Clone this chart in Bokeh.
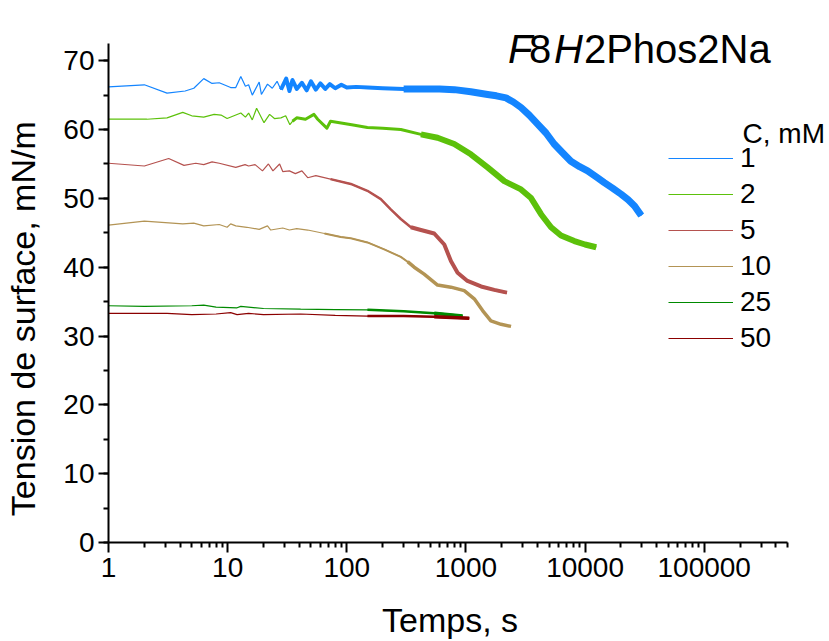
from bokeh.plotting import figure
from bokeh.models import (Range1d, FixedTicker, SingleIntervalTicker, Legend,
                          LegendItem, Label, PrintfTickFormatter)
from bokeh.embed import file_html
from bokeh.resources import INLINE

# ---------------- data ----------------
t_c1 = [1, 2, 3.1, 4.4, 5.2, 6.3, 7.4, 8.5, 10.6, 11.7, 12.9, 14.1, 15, 16.1,
        18.4, 19.2, 21.6, 23.7, 26, 28, 31, 33, 35, 38, 42, 46, 50, 55, 60,
        66, 72, 80, 90, 100, 120, 150, 200, 300, 420, 600, 800, 1100, 1520,
        1800, 2170, 2500, 2900, 3400, 4000, 4700, 5500, 6500, 7600, 9000,
        10500, 12500, 14500, 17000, 20100, 23000, 26000, 29600]
v_c1 = [66.2, 66.5, 65.3, 65.6, 66.0, 67.4, 66.7, 66.8, 66.1, 66.1, 67.7, 66.3,
        66.5, 65.0, 66.9, 65.1, 66.6, 66.0, 67.0, 65.8, 67.4, 65.6, 67.2, 65.9,
        66.8, 65.7, 67.0, 65.8, 66.7, 65.9, 66.6, 66.0, 66.5, 66.1, 66.2, 66.1,
        66.0, 65.9, 65.9, 65.9, 65.8, 65.5, 65.1, 64.9, 64.6, 64.0, 63.2, 62.1,
        60.8, 59.5, 57.9, 56.6, 55.4, 54.6, 54.0, 53.1, 52.3, 51.5, 50.6, 49.8,
        48.9, 47.5]

t_c2 = [1, 2.1, 3.1, 4.2, 5, 6.3, 7.7, 8.8, 9.9, 12.9, 14.1, 15, 16.1, 17.5,
        20.2, 22.5, 24.7, 28, 30.7, 33.3, 35, 38, 45, 53, 57, 68, 73, 87, 110,
        149, 200, 284, 419, 578, 798, 1100, 1520, 2100, 2900, 3500, 4270, 5180,
        6280, 8130, 10000, 12400]
v_c2 = [61.5, 61.5, 61.7, 62.5, 62.0, 61.8, 62.2, 62.1, 61.6, 62.4, 61.8, 62.4,
        61.4, 63.1, 61.0, 62.2, 61.6, 61.7, 62.0, 60.7, 61.2, 61.7, 61.5, 62.2,
        61.5, 60.2, 61.2, 61.0, 60.7, 60.3, 60.2, 60.0, 59.3, 58.8, 57.9, 56.4,
        54.5, 52.5, 51.3, 50.1, 47.7, 45.8, 44.6, 43.8, 43.3, 42.9]

t_c5 = [1, 2, 3.2, 4.3, 5.4, 6.3, 7.4, 8.5, 11.7, 14, 15, 17, 19.6, 22, 24,
        27.3, 29, 33, 37, 42, 47, 55, 73, 108, 149, 193, 234, 284, 345, 419,
        542, 658, 748, 851, 1030, 1340, 1730, 2210]
v_c5 = [55.1, 54.7, 55.8, 54.8, 55.1, 54.9, 55.3, 55.1, 54.5, 54.9, 54.7, 54.9,
        54.0, 55.0, 54.0, 55.0, 53.9, 54.0, 53.6, 54.0, 53.0, 53.3, 52.8, 52.1,
        51.1, 49.9, 48.4, 47.0, 45.8, 45.4, 44.9, 43.3, 40.9, 39.2, 38.0, 37.2,
        36.7, 36.3]

t_c10 = [1, 2, 4.2, 5.2, 6.3, 8.5, 9.9, 10.6, 11.7, 14.5, 18.4, 21.6, 23, 29,
         33, 38, 47, 65, 89, 108, 149, 206, 284, 324, 368, 446, 578, 748, 968,
         1175, 1380, 1620, 1970, 2390]
v_c10 = [46.1, 46.7, 46.3, 46.4, 46.0, 46.2, 45.8, 46.3, 46.0, 45.8, 45.5, 46.0,
         45.4, 45.7, 45.4, 45.6, 45.4, 44.9, 44.4, 44.2, 43.6, 42.6, 41.5, 40.8,
         40.0, 39.0, 37.4, 37.1, 36.6, 35.4, 33.7, 32.2, 31.7, 31.4]

t_c25 = [1, 2, 5, 6.3, 8, 12, 12.9, 20, 41, 80, 149, 300, 542, 937]
v_c25 = [34.4, 34.3, 34.4, 34.5, 34.2, 34.1, 34.3, 34.0, 33.9, 33.85, 33.8,
         33.6, 33.3, 32.9]

t_c50 = [1, 3.1, 5, 8, 10.6, 12, 15, 20, 41, 80, 149, 300, 542, 1066]
v_c50 = [33.3, 33.3, 33.1, 33.2, 33.4, 33.1, 33.3, 33.1, 33.2, 33.0, 32.9,
         32.9, 32.8, 32.6]

conc_labels = ["1", "2", "5", "10", "25", "50"]
x_ticks = [1, 10, 100, 1000, 10000, 100000]
x_tick_labels = ["1", "10", "100", "1000", "10000", "100000"]
x_axis_end = 5e5
y_axis_end = 72.5
y_ticks_interval = 10

series = [(t_c1, v_c1), (t_c2, v_c2), (t_c5, v_c5), (t_c10, v_c10),
          (t_c25, v_c25), (t_c50, v_c50)]

# ---------------- styles ----------------
colors = ["#1485ff", "#5cc10b", "#b5524f", "#b39455", "#008a00", "#8b0000"]
# (time from which the noisy trace looks thicker, width)
stages = [[(28, 4), (300, 7)], [(35, 3), (300, 6)], [(60, 2.5), (300, 4)],
          [(60, 2), (300, 3.5)], [(100, 2.5), (400, 3.5)], [(100, 2.5), (400, 3.5)]]
FONT = "Liberation Sans"

# frame fills the canvas to the top and right; axes are bounded
p = figure(width=829, height=641, x_axis_type="log",
           x_range=Range1d(1, 1126000), y_range=Range1d(0, 78.75),
           output_backend="svg", toolbar_location=None,
           min_border_left=108, min_border_right=0,
           min_border_top=0, min_border_bottom=99)
p.grid.visible = False
p.outline_line_color = None
p.background_fill_color = "white"

minor = []
for d in range(0, 6):
    for m in range(2, 10):
        v = m * 10 ** d
        if v <= x_axis_end:
            minor.append(v)
xa = p.xaxis[0]
xa.ticker = FixedTicker(ticks=x_ticks, minor_ticks=minor)
xa.formatter = PrintfTickFormatter(format="%d")
xa.major_label_overrides = {t: l for t, l in zip(x_ticks, x_tick_labels)}
xa.bounds = (1, x_axis_end)
ya = p.yaxis[0]
ya.ticker = SingleIntervalTicker(interval=y_ticks_interval, num_minor_ticks=2)
ya.bounds = (0, y_axis_end)

for ax in (xa, ya):
    ax.axis_line_width = 2
    ax.axis_line_color = "black"
    ax.major_tick_line_width = 2
    ax.minor_tick_line_width = 2
    ax.major_tick_line_color = "black"
    ax.minor_tick_line_color = "black"
    ax.major_tick_out = 10
    ax.major_tick_in = 0
    ax.minor_tick_out = 5
    ax.minor_tick_in = 0
    ax.major_label_text_font = FONT
    ax.major_label_text_font_size = "28px"
    ax.major_label_text_color = "black"
    ax.axis_label_text_font = FONT
    ax.axis_label_text_font_size = "34px"
    ax.axis_label_text_font_style = "normal"
    ax.axis_label_text_color = "black"

xa.axis_label = "Temps, s" + "\u00a0" * 4
xa.major_label_standoff = 5
xa.axis_label_standoff = 21
ya.axis_label = "Tension de surface, mN/m" + "\u00a0" * 10
ya.major_label_standoff = 4
ya.axis_label_standoff = 18

items = []
for (t, v), c, st, lab in zip(series, colors, stages, conc_labels):
    for start, w in st:
        tt = [a for a in t if a >= start]
        vv = [b for a, b in zip(t, v) if a >= start]
        p.line(tt, vv, line_color=c, line_width=w, line_join="round")
    r = p.line(t, v, line_color=c, line_width=1.2)
    items.append(LegendItem(label=lab, renderers=[r]))

legend = Legend(items=items, location=(560, 186), padding=0, margin=0,
                spacing=0, glyph_width=65, glyph_height=36, label_height=36,
                label_standoff=7, label_text_font=FONT,
                label_text_font_size="28px", label_text_color="black",
                border_line_color=None, background_fill_alpha=0)
p.add_layout(legend, "center")

p.add_layout(Label(x=209700, y=59.4, text="C, mM", text_font=FONT,
                   text_font_size="28px", text_baseline="alphabetic",
                   text_color="black"))

title_parts = [("F", "italic", 0), ("8", "normal", 21), ("H", "italic", 46),
               ("2Phos2Na", "normal", 76)]
for txt, style, off in title_parts:
    p.add_layout(Label(x=2250, y=71.77, x_offset=off, text=txt, text_font=FONT,
                       text_font_size="40px", text_font_style=style,
                       text_baseline="alphabetic", text_color="black"))

open("out.html", "w").write(file_html(p, INLINE))
